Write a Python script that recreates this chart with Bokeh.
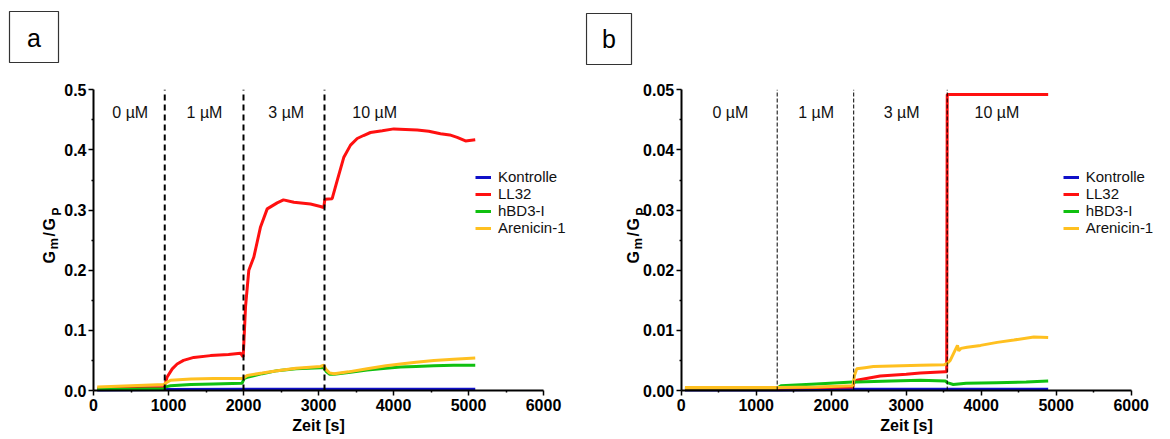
import math
from bokeh.plotting import figure
from bokeh.layouts import row
from bokeh.models import (Range1d, FixedTicker, PrintfTickFormatter, Label, BoxAnnotation)
from bokeh.embed import file_html
from bokeh.resources import INLINE

# ---------------- data ----------------
series_names = ["Kontrolle", "LL32", "hBD3-I", "Arenicin-1"]
series_colors = ["#1010c8", "#ff1010", "#10c010", "#ffc020"]

conc_labels = ["0 µM", "1 µM", "3 µM", "10 µM"]

x_ticks = [0, 1000, 2000, 3000, 4000, 5000, 6000]
x_minor = [500, 1500, 2500, 3500, 4500, 5500]

# panel a
a_additions = [950, 2000, 3080]
a_label_x = [490, 1480, 2570, 3750]
a_label_y = 0.4625
a_y_ticks = [0.0, 0.1, 0.2, 0.3, 0.4, 0.5]
a_y_minor = [0.05, 0.15, 0.25, 0.35, 0.45]

a_t_kontrolle = [50, 1000, 2000, 3000, 4000, 5090]
a_kontrolle = [0.001, 0.0015, 0.002, 0.002, 0.002, 0.002]

a_t_ll32 = [50, 500, 940, 950, 980, 1050, 1115, 1200, 1337, 1560, 1800, 1960, 1995,
            2005, 2027, 2071, 2138, 2227, 2316, 2449, 2533, 2671, 2893, 3027, 3070,
            3085, 3182, 3249, 3338, 3427, 3516, 3600, 3693, 3850, 4004, 4160, 4316,
            4470, 4627, 4750, 4849, 4960, 5090]
a_ll32 = [0.003, 0.004, 0.005, 0.008, 0.022, 0.036, 0.044, 0.050, 0.055, 0.058, 0.060,
          0.062, 0.056, 0.080, 0.139, 0.200, 0.222, 0.272, 0.302, 0.312, 0.317, 0.313,
          0.310, 0.306, 0.304, 0.318, 0.319, 0.349, 0.388, 0.408, 0.419, 0.424, 0.429,
          0.432, 0.435, 0.434, 0.433, 0.431, 0.427, 0.425, 0.421, 0.415, 0.417]

a_t_hbd3 = [50, 500, 940, 960, 1027, 1300, 1600, 1980, 2010, 2049, 2250, 2449, 2700,
            3027, 3070, 3100, 3150, 3209, 3400, 3649, 3900, 4093, 4300, 4538, 4800, 5090]
a_hbd3 = [0.002, 0.002, 0.003, 0.006, 0.008, 0.010, 0.011, 0.012, 0.020, 0.022, 0.028,
          0.033, 0.036, 0.038, 0.038, 0.032, 0.027, 0.027, 0.030, 0.034, 0.037, 0.039,
          0.040, 0.041, 0.042, 0.042]

a_t_arenicin = [50, 500, 940, 960, 1027, 1300, 1600, 1982, 2000, 2049, 2250, 2449, 2700,
                3027, 3070, 3100, 3150, 3209, 3400, 3649, 3900, 4093, 4300, 4538, 4800,
                5090]
a_arenicin = [0.006, 0.008, 0.010, 0.012, 0.017, 0.019, 0.020, 0.020, 0.021, 0.025, 0.029,
              0.033, 0.037, 0.040, 0.042, 0.035, 0.029, 0.028, 0.031, 0.036, 0.041, 0.044,
              0.047, 0.050, 0.052, 0.054]

# panel b
b_additions = [1280, 2300, 3547]
b_label_x = [655, 1800, 2940, 4210]
b_label_y = 0.04625
b_y_ticks = [0.0, 0.01, 0.02, 0.03, 0.04, 0.05]
b_y_minor = [0.005, 0.015, 0.025, 0.035, 0.045]

b_t_kontrolle = [50, 1300, 2300, 3550, 4893]
b_kontrolle = [0.0001, 0.0001, 0.0002, 0.0002, 0.0002]

b_t_ll32 = [50, 1280, 1300, 2290, 2300, 2341, 2653, 3000, 3187, 3520, 3540, 3547, 4893]
b_ll32 = [0.0002, 0.0002, 0.0004, 0.0006, 0.0012, 0.0017, 0.0024, 0.0027, 0.0029,
          0.0031, 0.0031, 0.0492, 0.0492]

b_t_hbd3 = [50, 1280, 1330, 1800, 2290, 2341, 2800, 3187, 3520, 3547, 3627, 3800, 4200,
            4600, 4893]
b_hbd3 = [0.0004, 0.0004, 0.0008, 0.0011, 0.0014, 0.0014, 0.0016, 0.0017, 0.0016,
          0.0013, 0.0010, 0.0012, 0.0013, 0.0014, 0.0016]

b_t_arenicin = [50, 1280, 1300, 1800, 2290, 2310, 2341, 2450, 2562, 3187, 3507, 3547,
                3587, 3653, 3684, 3700, 3730, 3813, 3991, 4213, 4436, 4702, 4893]
b_arenicin = [0.0005, 0.0005, 0.0005, 0.0006, 0.0008, 0.0025, 0.0036, 0.0038, 0.0040,
              0.0042, 0.0043, 0.0045, 0.0050, 0.0067, 0.0075, 0.0066, 0.0070, 0.0072,
              0.0075, 0.0080, 0.0084, 0.0089, 0.0088]

FONT = "Liberation Sans"
W, H = 585, 439
X_MAX = 6000
PX_PER_S = 0.075          # 450 px for 6000 s
AXIS_BOTTOM_PX = 49       # distance of the time axis from the bottom edge
AXIS_HEIGHT_PX = 300.7    # height of the value axis


def make_panel(letter, series, additions, label_x, label_y, y_max, y_ticks, y_minor,
               y_fmt, axis_left_px, dash_width, dash_pattern, box, letter_xy, title_x):
    # the frame fills the whole canvas; the axes sit at x = 0 / y = 0 inside it
    x0 = -axis_left_px / PX_PER_S
    x1 = x0 + W / PX_PER_S
    per_px = y_max / AXIS_HEIGHT_PX
    y0 = -AXIS_BOTTOM_PX * per_px
    y1 = y0 + H * per_px

    p = figure(width=W, height=H, output_backend="svg", toolbar_location=None,
               x_range=Range1d(x0, x1), y_range=Range1d(y0, y1), min_border=0)
    p.outline_line_color = None
    p.grid.visible = False
    p.background_fill_color = "white"
    p.border_fill_color = "white"

    for (t, v), name, color in zip(series, series_names, series_colors):
        p.line(t, v, line_color=color, line_width=3, legend_label=name)

    # additions of peptide: dashed markers over the full value range
    p.segment(x0=additions, y0=[0] * len(additions), x1=additions,
              y1=[y_max] * len(additions), line_color="black",
              line_width=dash_width, line_dash=dash_pattern)

    for x, txt in zip(label_x, conc_labels):
        p.add_layout(Label(x=x, y=label_y, text=txt, text_align="center",
                           text_baseline="middle", text_font=FONT,
                           text_font_size="16px", text_color="#111111"))

    # axes
    p.xaxis.fixed_location = 0
    p.yaxis.fixed_location = 0
    p.xaxis.bounds = (0, X_MAX)
    p.yaxis.bounds = (0, y_max)
    p.xaxis.ticker = FixedTicker(ticks=x_ticks, minor_ticks=x_minor)
    p.xaxis.formatter = PrintfTickFormatter(format="%d")
    p.yaxis.ticker = FixedTicker(ticks=y_ticks, minor_ticks=y_minor)
    p.yaxis.formatter = PrintfTickFormatter(format=y_fmt)
    for ax in (p.xaxis, p.yaxis):
        ax.axis_line_width = 2
        ax.axis_line_color = "black"
        ax.major_tick_line_width = 1.5
        ax.major_tick_line_color = "black"
        ax.minor_tick_line_width = 1.5
        ax.minor_tick_line_color = "black"
        ax.major_tick_in = 0
        ax.major_tick_out = 5
        ax.minor_tick_in = 0
        ax.minor_tick_out = 2
        ax.major_label_text_font = FONT
        ax.major_label_text_font_style = "bold"
        ax.major_label_text_font_size = "16px"
        ax.major_label_text_color = "black"
    p.xaxis.major_label_standoff = 3
    p.yaxis.major_label_standoff = 2
    p.xaxis.axis_label = "Zeit [s]"
    p.xaxis.axis_label_text_font = FONT
    p.xaxis.axis_label_text_font_style = "bold"
    p.xaxis.axis_label_text_font_size = "16px"
    p.xaxis.axis_label_text_color = "black"
    p.xaxis.axis_label_standoff = 3

    # rotated value-axis title G_m/G_P, built piece by piece (pixel offsets)
    pieces = [("G", 16, 0, 263), ("m", 13, 4, 249), ("/", 16, 0, 236),
              ("G", 16, 0, 230), ("P", 12, 7, 215)]
    for txt, size, shift, start in pieces:
        p.add_layout(Label(x=title_x + shift, y=H - start, x_units="screen",
                           y_units="screen", text=txt, angle=math.pi / 2,
                           text_align="left", text_baseline="alphabetic",
                           text_font=FONT, text_font_style="bold",
                           text_font_size=f"{size}px", text_color="black"))

    # panel letter in a box
    left, right, top, bottom = box
    p.add_layout(BoxAnnotation(left=left, right=right, top=H - top, bottom=H - bottom,
                               left_units="screen", right_units="screen",
                               top_units="screen", bottom_units="screen",
                               fill_alpha=0, line_color="#333333", line_width=1.2,
                               line_alpha=1))
    p.add_layout(Label(x=letter_xy[0], y=H - letter_xy[1], x_units="screen",
                       y_units="screen", text=letter, text_align="center",
                       text_baseline="middle", text_font=FONT,
                       text_font_size="25px", text_color="black"))

    lg = p.legend[0]
    lg.location = (axis_left_px + 382, 203)
    lg.border_line_color = None
    lg.background_fill_alpha = 0
    lg.padding = 0
    lg.margin = 0
    lg.spacing = 0
    lg.label_standoff = 7
    lg.glyph_width = 16
    lg.glyph_height = 16
    lg.label_height = 16
    lg.label_text_font = FONT
    lg.label_text_font_size = "15px"
    lg.label_text_color = "#111111"
    return p


pa = make_panel("a",
                [(a_t_kontrolle, a_kontrolle), (a_t_ll32, a_ll32),
                 (a_t_hbd3, a_hbd3), (a_t_arenicin, a_arenicin)],
                a_additions, a_label_x, a_label_y, 0.5, a_y_ticks, a_y_minor, "%.1f",
                93, 2, "6 4", (9, 58, 11, 62), (33.5, 37), 49)
pb = make_panel("b",
                [(b_t_kontrolle, b_kontrolle), (b_t_ll32, b_ll32),
                 (b_t_hbd3, b_hbd3), (b_t_arenicin, b_arenicin)],
                b_additions, b_label_x, b_label_y, 0.05, b_y_ticks, b_y_minor, "%.2f",
                95.7, 1, "4 2", (1, 46, 13, 64), (23.5, 38.5), 48)

layout = row(pa, pb)
open("out.html", "w").write(file_html(layout, INLINE))
